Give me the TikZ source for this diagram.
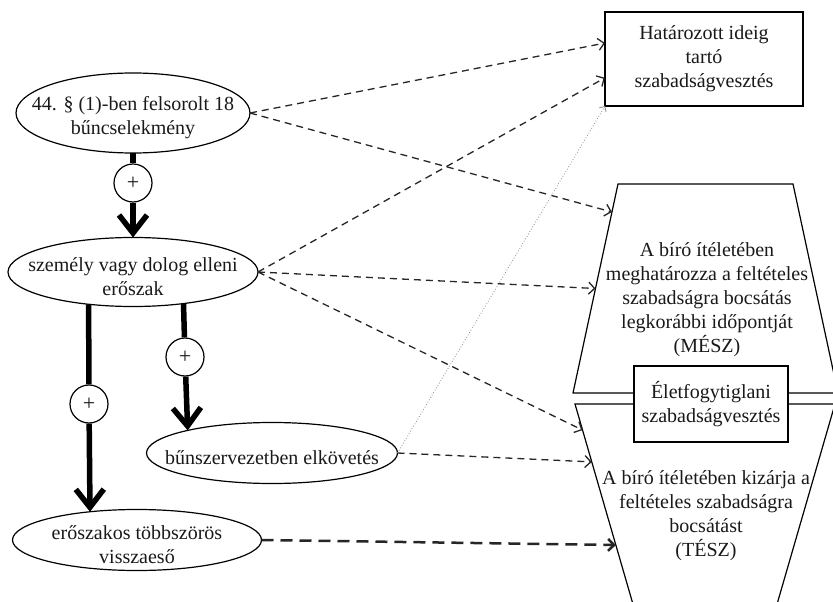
\documentclass[tikz,border=0pt]{standalone}
\usepackage{fontspec}
\setmainfont{Liberation Serif}
\usetikzlibrary{arrows.meta,calc,shapes.geometric}

\begin{document}
\begin{tikzpicture}[x=1pt,y=-1pt,color=black!90,draw=black,
    font=\fontsize{20}{24}\selectfont,
    ell/.style={ellipse,draw,line width=1.2pt,inner sep=0pt,outer sep=0pt},
    felirat/.style={align=center,yshift=-5pt},
    plus/.style={circle,draw,fill=white,line width=1.2pt,minimum size=38pt,inner sep=0pt,font=\fontsize{22}{24}\selectfont},
    doboz/.style={rectangle,draw,fill=white,line width=1.2pt,inner sep=0pt,outer sep=0pt,align=center},
    vastag/.style={draw=black,line width=5.5pt},
    vastagnyil/.style={vastag,-{Straight Barb[length=18pt,width=28pt]}},
    szaggatott/.style={draw=black!85,line width=1.3pt,dash pattern=on 7pt off 5pt,-{Straight Barb[length=6pt,width=12pt]}},
    szaggatott2/.style={szaggatott,line width=2.5pt,dash pattern=on 12pt off 7pt},
    pontozott/.style={draw=black!45,line width=0.8pt,dotted,-{Straight Barb[length=4pt,width=8pt]}}]
      \useasboundingbox (0,0) rectangle (833,602);
      \clip (0,0) rectangle (833,602);
      % tenyallasok
      \node[ell,minimum width=234pt,minimum height=80pt,label={[felirat]center:44. § (1)-ben felsorolt 18\\bűncselekmény}] (felsorolt) at (133,113) {};
      \node[ell,minimum width=250pt,minimum height=69pt,label={[felirat]center:személy vagy dolog elleni\\erőszak}] (eroszak) at (133,272) {};
      \node[ell,minimum width=251pt,minimum height=61pt,label={[felirat]center:bűnszervezetben elkövetés}] (bunszerv) at (272,453) {};
      \node[ell,minimum width=249pt,minimum height=61pt,label={[felirat]center:erőszakos többszörös\\visszaeső}] (visszaeso) at (137,540) {};
      \node[plus] (p1) at (133,183) {+};
      \node[plus] (p2) at (89,404) {+};
      \node[plus] (p3) at (185,357) {+};
      % jogkovetkezmenyek
      \node[doboz,minimum width=198pt,minimum height=94pt] (hatarozott) at (704,59) {Határozott ideig\\tartó\\szabadságvesztés};
      \coordinate (m1) at (618,184);
      \coordinate (m2) at (793,184);
      \coordinate (m3) at (838,393);
      \coordinate (m4) at (573,393);
      \coordinate (t1) at (575,404);
      \coordinate (t2) at (835,404);
      \coordinate (t3) at (771,625);
      \coordinate (t4) at (639,625);
      \draw[line width=1.2pt] (m1)--(m2)--(m3)--(m4)--cycle;
      \draw[line width=1.2pt] (t1)--(t2)--(t3)--(t4)--cycle;
      \node[align=center] (mesz) at (707,300) {A bíró ítéletében\\meghatározza a feltételes\\szabadságra bocsátás\\legkorábbi időpontját\\(MÉSZ)};
      \node[align=center] (tesz) at (706,516) {A bíró ítéletében kizárja a\\feltételes szabadságra\\bocsátást\\(TÉSZ)};
      \node[doboz,minimum width=154pt,minimum height=76pt] (eletfogytig) at (711,404) {Életfogytiglani\\szabadságvesztés};
      % vastag nyilak
      \draw[vastag] (felsorolt) -- (p1);
      \draw[vastagnyil] (p1) -- (eroszak);
      \draw[vastag] (eroszak.216.3) -- (p2);
      \draw[vastagnyil] (p2) -- (visszaeso.149.65);
      \draw[vastag] (eroszak.328.9) -- (p3);
      \draw[vastagnyil] (p3) -- (bunszerv.165.8);
      % szaggatott nyilak
      \draw[szaggatott] (felsorolt.east) -- ($(hatarozott.north west)!0.33!(hatarozott.south west)$);
      \draw[szaggatott] (felsorolt.east) -- ($(m1)!0.134!(m4)$);
      \draw[szaggatott] (eroszak.east) -- ($(hatarozott.north west)!0.70!(hatarozott.south west)$);
      \draw[szaggatott] (eroszak.east) -- ($(m1)!0.5!(m4)$);
      \draw[szaggatott] (eroszak.east) -- ($(t1)!0.118!(t4)$);
      \draw[szaggatott] (bunszerv.east) -- ($(t1)!0.262!(t4)$);
      \draw[pontozott] (bunszerv.east) -- (hatarozott.south west);
      \draw[szaggatott2] (visszaeso.east) -- ($(t1)!0.638!(t4)$);
    \end{tikzpicture}
\end{document}
